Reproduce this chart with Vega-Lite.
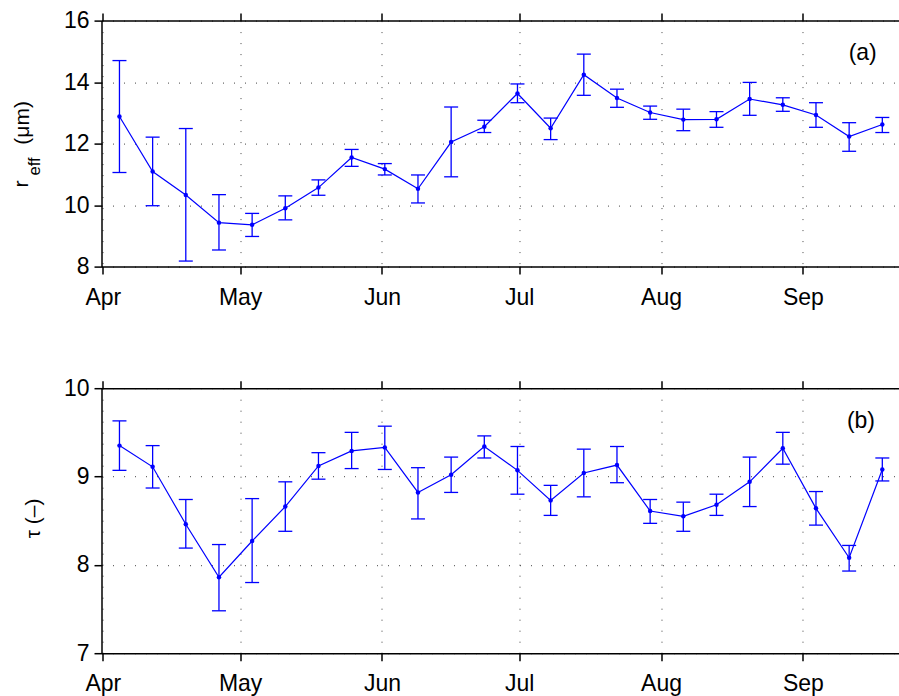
{
  "$schema": "https://vega.github.io/schema/vega-lite/v6.json",
  "padding": {"left": 10.5, "top": 9.6, "right": 0, "bottom": 0},
  "background": "white",
  "bounds": "flush",
  "spacing": 121.6,
  "datasets": {
    "obs": [
      {"date": "2010-04-04T15:00", "r": 12.88, "r_lo": 11.06, "r_hi": 14.70, "tau": 9.35, "tau_lo": 9.07, "tau_hi": 9.63},
      {"date": "2010-04-11T21:00", "r": 11.09, "r_lo": 9.98, "r_hi": 12.21, "tau": 9.11, "tau_lo": 8.87, "tau_hi": 9.35},
      {"date": "2010-04-19T03:00", "r": 10.33, "r_lo": 8.18, "r_hi": 12.49, "tau": 8.46, "tau_lo": 8.19, "tau_hi": 8.74},
      {"date": "2010-04-26T09:00", "r": 9.43, "r_lo": 8.54, "r_hi": 10.34, "tau": 7.86, "tau_lo": 7.48, "tau_hi": 8.23},
      {"date": "2010-05-03T15:00", "r": 9.36, "r_lo": 8.98, "r_hi": 9.73, "tau": 8.27, "tau_lo": 7.80, "tau_hi": 8.75},
      {"date": "2010-05-10T21:00", "r": 9.90, "r_lo": 9.52, "r_hi": 10.30, "tau": 8.66, "tau_lo": 8.38, "tau_hi": 8.94},
      {"date": "2010-05-18T03:00", "r": 10.57, "r_lo": 10.32, "r_hi": 10.82, "tau": 9.12, "tau_lo": 8.97, "tau_hi": 9.27},
      {"date": "2010-05-25T09:00", "r": 11.55, "r_lo": 11.26, "r_hi": 11.81, "tau": 9.29, "tau_lo": 9.09, "tau_hi": 9.50},
      {"date": "2010-06-01T15:00", "r": 11.17, "r_lo": 10.98, "r_hi": 11.35, "tau": 9.33, "tau_lo": 9.08, "tau_hi": 9.57},
      {"date": "2010-06-08T21:00", "r": 10.53, "r_lo": 10.07, "r_hi": 10.98, "tau": 8.82, "tau_lo": 8.52, "tau_hi": 9.10},
      {"date": "2010-06-16T03:00", "r": 12.05, "r_lo": 10.92, "r_hi": 13.19, "tau": 9.02, "tau_lo": 8.82, "tau_hi": 9.22},
      {"date": "2010-06-23T09:00", "r": 12.55, "r_lo": 12.36, "r_hi": 12.76, "tau": 9.34, "tau_lo": 9.21, "tau_hi": 9.46},
      {"date": "2010-06-30T15:00", "r": 13.63, "r_lo": 13.33, "r_hi": 13.94, "tau": 9.07, "tau_lo": 8.80, "tau_hi": 9.34},
      {"date": "2010-07-07T21:00", "r": 12.50, "r_lo": 12.13, "r_hi": 12.83, "tau": 8.73, "tau_lo": 8.56, "tau_hi": 8.90},
      {"date": "2010-07-15T03:00", "r": 14.24, "r_lo": 13.57, "r_hi": 14.91, "tau": 9.04, "tau_lo": 8.77, "tau_hi": 9.31},
      {"date": "2010-07-22T09:00", "r": 13.48, "r_lo": 13.18, "r_hi": 13.77, "tau": 9.13, "tau_lo": 8.93, "tau_hi": 9.34},
      {"date": "2010-07-29T15:00", "r": 13.01, "r_lo": 12.79, "r_hi": 13.22, "tau": 8.61, "tau_lo": 8.47, "tau_hi": 8.74},
      {"date": "2010-08-05T21:00", "r": 12.78, "r_lo": 12.42, "r_hi": 13.12, "tau": 8.55, "tau_lo": 8.38, "tau_hi": 8.71},
      {"date": "2010-08-13T03:00", "r": 12.79, "r_lo": 12.53, "r_hi": 13.04, "tau": 8.68, "tau_lo": 8.56, "tau_hi": 8.80},
      {"date": "2010-08-20T09:00", "r": 13.45, "r_lo": 12.92, "r_hi": 13.99, "tau": 8.94, "tau_lo": 8.66, "tau_hi": 9.22},
      {"date": "2010-08-27T15:00", "r": 13.26, "r_lo": 13.05, "r_hi": 13.49, "tau": 9.32, "tau_lo": 9.14, "tau_hi": 9.50},
      {"date": "2010-09-03T21:00", "r": 12.93, "r_lo": 12.53, "r_hi": 13.33, "tau": 8.64, "tau_lo": 8.45, "tau_hi": 8.83},
      {"date": "2010-09-11T03:00", "r": 12.23, "r_lo": 11.75, "r_hi": 12.68, "tau": 8.08, "tau_lo": 7.93, "tau_hi": 8.22},
      {"date": "2010-09-18T09:00", "r": 12.62, "r_lo": 12.36, "r_hi": 12.85, "tau": 9.08, "tau_lo": 8.95, "tau_hi": 9.21}
    ],
    "labels": [
      {"panel": "a", "date": "2010-09-14T02:00", "r": 14.716, "tau": null, "label": "(a)"},
      {"panel": "b", "date": "2010-09-13T17:00", "r": null, "tau": 9.551, "label": "(b)"}
    ]
  },
  "vconcat": [
    {
      "width": 797.5,
      "height": 246,
      "data": {"name": "obs"},
      "layer": [
        {
          "mark": {"type": "rule", "color": "#0000ff", "strokeWidth": 1.3},
          "encoding": {
            "x": {"field": "date", "type": "temporal",
              "scale": {"domain": [{"year": 2010, "month": 3, "date": 31, "hours": 16, "minutes": 48}, {"year": 2010, "month": 9, "date": 22, "hours": 0, "minutes": 30}]},
              "axis": {"orient": "top", "labels": false, "ticks": true, "domain": true, "grid": false,
                "values": [{"year": 2010, "month": 4, "date": 1}, {"year": 2010, "month": 5, "date": 1}, {"year": 2010, "month": 6, "date": 1}, {"year": 2010, "month": 7, "date": 1}, {"year": 2010, "month": 8, "date": 1}, {"year": 2010, "month": 9, "date": 1}],
                "title": "eff", "titleX": -61.6, "titleY": 145.3, "titleAngle": 270, "titleAlign": "center", "titleBaseline": "alphabetic", "titleFontSize": 16.5}},
            "y": {"field": "r_lo", "type": "quantitative",
              "scale": {"domain": [8, 16], "nice": false, "zero": false},
              "axis": {"orient": "right", "domain": false, "ticks": false, "labels": false, "grid": false,
                "title": "r", "titleX": -871.5, "titleY": 162.8, "titleAngle": 270, "titleAlign": "center", "titleBaseline": "alphabetic"}},
            "y2": {"field": "r_hi"}
          }
        },
        {
          "mark": {"type": "tick", "orient": "horizontal", "size": 14, "thickness": 1.3, "color": "#0000ff", "opacity": 1},
          "encoding": {
            "x": {"field": "date", "type": "temporal", "axis": null},
            "y": {"field": "r_lo", "type": "quantitative", "axis": null}
          }
        },
        {
          "mark": {"type": "tick", "orient": "horizontal", "size": 14, "thickness": 1.3, "color": "#0000ff", "opacity": 1},
          "encoding": {
            "x": {"field": "date", "type": "temporal", "axis": null},
            "y": {"field": "r_hi", "type": "quantitative", "axis": null}
          }
        },
        {
          "mark": {"type": "line", "color": "#0000ff", "strokeWidth": 1.2},
          "encoding": {
            "x": {"field": "date", "type": "temporal",
              "axis": {"orient": "bottom", "format": "%b", "labelFlush": false, "labelOverlap": false, "labelBound": false, "labelPadding": 12, "grid": true, "title": null,
                "values": [{"year": 2010, "month": 4, "date": 1}, {"year": 2010, "month": 5, "date": 1}, {"year": 2010, "month": 6, "date": 1}, {"year": 2010, "month": 7, "date": 1}, {"year": 2010, "month": 8, "date": 1}, {"year": 2010, "month": 9, "date": 1}]}},
            "y": {"field": "r", "type": "quantitative",
              "axis": {"orient": "left", "values": [8, 10, 12, 14, 16], "grid": true, "labelPadding": 5,
                "title": "(μm)", "titleX": -73.5, "titleY": 101.8, "titleAngle": 270, "titleAlign": "center", "titleBaseline": "alphabetic"}}
          }
        },
        {
          "mark": {"type": "point", "filled": true, "size": 20, "color": "#0000ff", "opacity": 1},
          "encoding": {
            "x": {"field": "date", "type": "temporal", "axis": null},
            "y": {"field": "r", "type": "quantitative", "axis": null}
          }
        },
        {
          "data": {"name": "labels"},
          "transform": [{"filter": "datum.panel === 'a'"}],
          "mark": {"type": "text", "fontSize": 23, "align": "center", "baseline": "alphabetic", "color": "black", "font": "Liberation Sans"},
          "encoding": {
            "x": {"field": "date", "type": "temporal", "axis": null},
            "y": {"field": "r", "type": "quantitative", "axis": null},
            "text": {"field": "label"}
          }
        }
      ],
      "resolve": {"axis": {"x": "independent", "y": "independent"}}
    },
    {
      "width": 797.5,
      "height": 265,
      "data": {"name": "obs"},
      "layer": [
        {
          "mark": {"type": "rule", "color": "#0000ff", "strokeWidth": 1.3},
          "encoding": {
            "x": {"field": "date", "type": "temporal",
              "scale": {"domain": [{"year": 2010, "month": 3, "date": 31, "hours": 16, "minutes": 48}, {"year": 2010, "month": 9, "date": 22, "hours": 0, "minutes": 30}]},
              "axis": {"orient": "top", "labels": false, "ticks": true, "domain": true, "grid": false, "title": null,
                "values": [{"year": 2010, "month": 4, "date": 1}, {"year": 2010, "month": 5, "date": 1}, {"year": 2010, "month": 6, "date": 1}, {"year": 2010, "month": 7, "date": 1}, {"year": 2010, "month": 8, "date": 1}, {"year": 2010, "month": 9, "date": 1}]}},
            "y": {"field": "tau_lo", "type": "quantitative",
              "scale": {"domain": [7, 10], "nice": false, "zero": false},
              "axis": null},
            "y2": {"field": "tau_hi"}
          }
        },
        {
          "mark": {"type": "tick", "orient": "horizontal", "size": 14, "thickness": 1.3, "color": "#0000ff", "opacity": 1},
          "encoding": {
            "x": {"field": "date", "type": "temporal", "axis": null},
            "y": {"field": "tau_lo", "type": "quantitative", "axis": null}
          }
        },
        {
          "mark": {"type": "tick", "orient": "horizontal", "size": 14, "thickness": 1.3, "color": "#0000ff", "opacity": 1},
          "encoding": {
            "x": {"field": "date", "type": "temporal", "axis": null},
            "y": {"field": "tau_hi", "type": "quantitative", "axis": null}
          }
        },
        {
          "mark": {"type": "line", "color": "#0000ff", "strokeWidth": 1.2},
          "encoding": {
            "x": {"field": "date", "type": "temporal",
              "axis": {"orient": "bottom", "format": "%b", "labelFlush": false, "labelOverlap": false, "labelBound": false, "labelPadding": 12, "grid": true, "title": null,
                "values": [{"year": 2010, "month": 4, "date": 1}, {"year": 2010, "month": 5, "date": 1}, {"year": 2010, "month": 6, "date": 1}, {"year": 2010, "month": 7, "date": 1}, {"year": 2010, "month": 8, "date": 1}, {"year": 2010, "month": 9, "date": 1}]}},
            "y": {"field": "tau", "type": "quantitative",
              "axis": {"orient": "left", "values": [7, 8, 9, 10], "grid": true, "labelPadding": 5,
                "title": "τ (–)", "titleX": -62.3, "titleY": 129.7, "titleAngle": 270, "titleAlign": "center", "titleBaseline": "alphabetic"}}
          }
        },
        {
          "mark": {"type": "point", "filled": true, "size": 20, "color": "#0000ff", "opacity": 1},
          "encoding": {
            "x": {"field": "date", "type": "temporal", "axis": null},
            "y": {"field": "tau", "type": "quantitative", "axis": null}
          }
        },
        {
          "data": {"name": "labels"},
          "transform": [{"filter": "datum.panel === 'b'"}],
          "mark": {"type": "text", "fontSize": 23, "align": "center", "baseline": "alphabetic", "color": "black", "font": "Liberation Sans"},
          "encoding": {
            "x": {"field": "date", "type": "temporal", "axis": null},
            "y": {"field": "tau", "type": "quantitative", "axis": null},
            "text": {"field": "label"}
          }
        }
      ],
      "resolve": {"axis": {"x": "independent", "y": "independent"}}
    }
  ],
  "config": {
    "view": {"stroke": null},
    "font": "Liberation Sans",
    "axis": {
      "domainColor": "black", "domainWidth": 1.5,
      "tickColor": "black", "tickWidth": 1.5, "tickSize": 7.5,
      "labelFont": "Liberation Sans", "labelFontSize": 23, "labelColor": "black",
      "titleFont": "Liberation Sans", "titleFontSize": 21, "titleFontWeight": "normal", "titleColor": "black",
      "gridColor": "#444", "gridDash": [1, 10], "gridWidth": 1, "gridOpacity": 1
    }
  }
}
